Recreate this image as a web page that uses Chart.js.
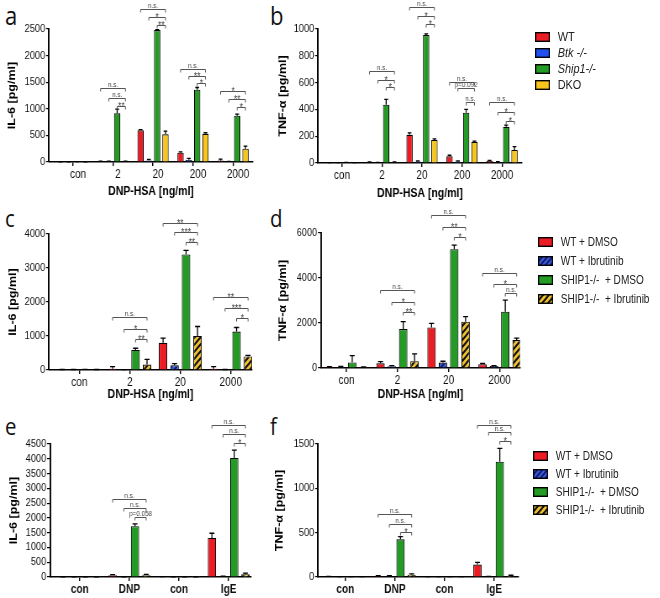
<!DOCTYPE html>
<html>
<head>
<meta charset="utf-8">
<script src="https://cdn.jsdelivr.net/npm/chart.js@4.4.1/dist/chart.umd.min.js"></script>
<style>
  body { margin: 0; background: #fff; }
  #fig { position: relative; width: 660px; height: 598px; overflow: hidden; }
  .panel { position: absolute; }
  .letter { position: absolute; font-family: 'Open Sans', sans-serif; line-height: 1; color: #111;
            transform: scaleX(0.85); transform-origin: left top; }
  .leg { position: absolute; height: 14px; line-height: 14px; white-space: pre; color: #222;
         font-family: 'Liberation Sans', Arial, sans-serif; transform: scaleX(0.84); transform-origin: left top; }
  .leg canvas { position: absolute; left: 0; top: 2px; }
  .leg span { position: absolute; left: 27px; top: 0; }
</style>
</head>
<body>
<div id="fig">
  <div class="letter" style="left:5px;top:2px;font-size:26px">a</div>
  <div class="letter" style="left:270px;top:2px;font-size:26px">b</div>
  <div class="letter" style="left:5px;top:206px;font-size:24px">c</div>
  <div class="letter" style="left:270px;top:206px;font-size:24px">d</div>
  <div class="letter" style="left:5px;top:414px;font-size:24px">e</div>
  <div class="letter" style="left:270px;top:414px;font-size:24px">f</div>
  <canvas class="panel" id="pa" style="left:0;top:0"></canvas>
  <canvas class="panel" id="pb" style="left:270px;top:0"></canvas>
  <canvas class="panel" id="pc" style="left:0;top:205px"></canvas>
  <canvas class="panel" id="pd" style="left:270px;top:205px"></canvas>
  <canvas class="panel" id="pe" style="left:0;top:410px"></canvas>
  <canvas class="panel" id="pf" style="left:270px;top:410px"></canvas>
</div>
<script>
// categories
const dnpDoses = ['con', '2', '20', '200', '2000'];
const dnpDoses4 = ['con', '2', '20', '2000'];
const stimuli = ['con', 'DNP', 'con', 'IgE'];

// legends
const genotypes = ['WT', 'Btk -/-', 'Ship1-/-', 'DKO'];
const genotypeItalic = [false, true, true, false];
const treatments = ['WT + DMSO', 'WT + Ibrutinib', 'SHIP1-/-  + DMSO', 'SHIP1-/-  + Ibrutinib'];

// panel a: IL-6, genotypes
const aWT = [2, 10, 595, 175, 30];
const aWTErr = [1, 5, 15, 15, 25];
const aBtk = [2, 10, 30, 40, 5];
const aBtkErr = [1, 5, 20, 30, 5];
const aShip = [4, 915, 2480, 1360, 870];
const aShipErr = [2, 80, 10, 40, 30];
const aDKO = [2, 10, 520, 530, 250];
const aDKOErr = [1, 5, 60, 20, 50];
const aSigGroups = [1, 2, 3, 4];
const aSigLevels = [[1385, 1197, 1052], [2870, 2731, 2575], [1742, 1617, 1479], [1340, 1178, 1039]];
const aSigText = [['n.s.', 'n.s.', '**'], ['n.s.', '*', '**'], ['n.s.', '**', '*'], ['*', '**', '*']];

// panel b: TNF-a, genotypes
const bWT = [2, 5, 210, 50, 15];
const bWTErr = [1, 3, 15, 8, 5];
const bBtk = [2, 3, 10, 10, 8];
const bBtkErr = [1, 2, 5, 5, 3];
const bShip = [3, 435, 955, 375, 270];
const bShipErr = [1, 40, 8, 25, 12];
const bDKO = [2, 5, 172, 157, 97];
const bDKOErr = [1, 3, 8, 6, 25];
const bSigGroups = [1, 2, 3, 4];
const bSigLevels = [[689, 619, 565], [1162, 1097, 1037], [607, 557, 457], [457, 383, 316]];
const bSigText = [['n.s.', '*', '*'], ['n.s.', '*', '*'], ['n.s.', 'p=0.092', 'n.s.'], ['n.s.', '*', '*']];

// panel c: IL-6, ibrutinib
const cWT = [10, 40, 800, 40];
const cWTErr = [5, 60, 140, 60];
const cWTIbr = [10, 5, 140, 10];
const cWTIbrErr = [5, 5, 50, 5];
const cShip = [15, 590, 3400, 1130];
const cShipErr = [5, 50, 120, 120];
const cShipIbr = [10, 160, 1000, 400];
const cShipIbrErr = [5, 150, 280, 30];
const cSigGroups = [1, 2, 3];
const cSigLevels = [[1569, 1196, 902], [4314, 4049, 3775], [2157, 1814, 1520]];
const cSigText = [['n.s.', '*', '**'], ['**', '***', '**'], ['**', '***', '*']];

// panel d: TNF-a, ibrutinib
const dWT = [40, 210, 1800, 170];
const dWTErr = [20, 70, 180, 30];
const dWTIbr = [50, 80, 240, 90];
const dWTIbrErr = [20, 30, 60, 20];
const dShip = [250, 1730, 5280, 2500];
const dShipErr = [300, 330, 180, 520];
const dShipIbr = [30, 300, 2060, 1240];
const dShipIbrErr = [15, 330, 220, 90];
const dSigGroups = [1, 2, 3];
const dSigLevels = [[3467, 2948, 2504], [6800, 6281, 5807], [4207, 3733, 3319]];
const dSigText = [['n.s.', '*', '**'], ['n.s.', '**', '*'], ['n.s.', '*', 'n.s.']];

// panel e: IL-6, DNP vs IgE
const eWT = [5, 60, 10, 1320];
const eWTErr = [3, 20, 5, 160];
const eWTIbr = [3, 5, 3, 20];
const eWTIbrErr = [2, 3, 2, 10];
const eShip = [3, 1720, 3, 4030];
const eShipErr = [2, 80, 2, 260];
const eShipIbr = [3, 60, 3, 90];
const eShipIbrErr = [2, 30, 2, 40];
const eSigGroups = [1, 3];
const eSigLevels = [[2642, 2340, 2026], [5138, 4846, 4544]];
const eSigText = [['n.s.', 'n.s.', 'p=0.058'], ['n.s.', 'n.s.', '*']];

// panel f: TNF-a, DNP vs IgE
const fWT = [5, 10, 3, 140];
const fWTErr = [2, 5, 2, 25];
const fWTIbr = [3, 10, 2, 5];
const fWTIbrErr = [2, 5, 2, 3];
const fShip = [3, 425, 3, 1300];
const fShipErr = [2, 30, 2, 150];
const fShipIbr = [3, 25, 2, 15];
const fShipIbrErr = [2, 10, 2, 5];
const fSigGroups = [1, 3];
const fSigLevels = [[705, 602, 504], [1716, 1636, 1534]];
const fSigText = [['n.s.', 'n.s.', '*'], ['n.s.', 'n.s.', '*']];

const SANS = "'Liberation Sans', Arial, sans-serif";
const SX = 0.84;   // the figure is squeezed horizontally

const RED = '#ec1c24', BLUE = '#2050ee', GREEN = '#249b24', YELLOW = '#f8c51c';

function hatch(base, stripe, size, lw) {
  const c = document.createElement('canvas');
  c.width = c.height = size;
  const x = c.getContext('2d');
  x.fillStyle = base;
  x.fillRect(0, 0, size, size);
  x.strokeStyle = stripe;
  x.lineWidth = lw;
  x.beginPath();
  x.moveTo(-size, size * 2); x.lineTo(size * 2, -size);
  x.moveTo(-size, size); x.lineTo(size, -size);
  x.moveTo(0, size * 2); x.lineTo(size * 2, 0);
  x.stroke();
  return x.createPattern(c, 'repeat');
}
const BLUE_HATCH = hatch('#3a5ad8', '#0d1660', 6, 1.8);
const YELLOW_HATCH = hatch('#f2c232', '#111', 7, 2.2);

// error bars drawn above each bar
const errorBars = {
  id: 'errorBars',
  afterDatasetsDraw(chart) {
    const ctx = chart.ctx, y = chart.scales.y;
    ctx.save();
    ctx.strokeStyle = '#000';
    ctx.lineWidth = 1.3;
    chart.data.datasets.forEach((ds, di) => {
      chart.getDatasetMeta(di).data.forEach((bar, i) => {
        const e = ds.err[i];
        if (!e) return;
        const top = y.getPixelForValue(ds.data[i] + e);
        const hw = bar.width * 0.3;
        ctx.beginPath();
        ctx.moveTo(bar.x, bar.y);
        ctx.lineTo(bar.x, top);
        ctx.moveTo(bar.x - hw, top);
        ctx.lineTo(bar.x + hw, top);
        ctx.stroke();
      });
    });
    ctx.restore();
  }
};

// significance brackets: each series compared with the last one
function makeBrackets(groups, levels, texts) {
  return {
    id: 'brackets',
    afterDatasetsDraw(chart) {
      const ctx = chart.ctx, y = chart.scales.y;
      const last = chart.data.datasets.length - 1;
      ctx.save();
      ctx.strokeStyle = '#555';
      ctx.fillStyle = '#444';
      ctx.lineWidth = 1;
      ctx.textAlign = 'center';
      ctx.textBaseline = 'alphabetic';
      groups.forEach((g, k) => {
        levels[k].forEach((lv, j) => {
          const x1 = chart.getDatasetMeta(j).data[g].x;
          const x2 = chart.getDatasetMeta(last).data[g].x;
          const py = Math.round(y.getPixelForValue(lv)) + 0.5;
          ctx.beginPath();
          ctx.moveTo(x1, py + 3);
          ctx.lineTo(x1, py);
          ctx.lineTo(x2, py);
          ctx.lineTo(x2, py + 3);
          ctx.stroke();
          const t = texts[k][j];
          const star = t[0] === '*';
          ctx.font = (star ? '10px ' : '7.5px ') + SANS;
          ctx.fillText(t, (x1 + x2) / 2, star ? py + 3 : py - 1.5);
        });
      });
      ctx.restore();
    }
  };
}

function drawPanel(id, g, cats, series, yMax, yStep, yTitle, xTitle, xBold, sig) {
  const cv = document.getElementById(id);
  cv.width = Math.round(g.w / SX);
  cv.height = g.h;
  cv.style.width = g.w + 'px';
  cv.style.height = g.h + 'px';
  const tickFont = { family: SANS, size: 12, weight: xBold ? 'bold' : 'normal' };
  new Chart(cv, {
    type: 'bar',
    data: {
      labels: cats.map((c, i) => i),
      datasets: series.map(s => ({
        data: s[0], err: s[1], backgroundColor: s[2],
        borderColor: '#000', borderWidth: 1.1,
        categoryPercentage: g.cat, barPercentage: g.bar
      }))
    },
    options: {
      responsive: false, animation: false, events: [], devicePixelRatio: 1,
      layout: { padding: { top: g.top, right: g.right / SX, left: 0, bottom: 0 } },
      plugins: { legend: { display: false }, tooltip: { enabled: false } },
      scales: {
        x: {
          type: 'linear', min: g.xMin, max: g.xMax, offset: false,
          afterBuildTicks: s => { s.ticks = cats.map((c, i) => ({ value: i })); },
          afterFit: s => { s.height = g.xH; },
          grid: { drawOnChartArea: false, offset: false, color: '#000', tickLength: 4, lineWidth: 1.4 },
          border: { color: '#000', width: 1.6 },
          ticks: {
            callback: v => cats[v], autoSkip: false, maxRotation: 0, padding: 1.5,
            labelOffset: (g.lblOff || 0) / SX, color: '#111', font: tickFont
          },
          title: {
            display: !!xTitle, text: xTitle, color: '#000',
            font: { family: SANS, size: 12.5, weight: 'bold' }, padding: { top: 0, bottom: g.xtPad }
          }
        },
        y: {
          min: 0, max: yMax,
          afterFit: s => { s.width = g.yW / SX; },
          grid: { drawOnChartArea: false, color: '#000', tickLength: 3.5, lineWidth: 1.2 },
          border: { color: '#000', width: 1.9 },
          ticks: { stepSize: yStep, autoSkip: false, padding: 1, color: '#111', font: { family: SANS, size: 11 }, callback: v => String(v) },
          title: {
            display: true, text: yTitle, color: '#000',
            font: { family: SANS, size: 12.5, weight: 'bold' }, padding: { top: g.ytX / SX - 7.5, bottom: 0 }
          }
        }
      }
    },
    plugins: [errorBars, makeBrackets(sig[0], sig[1], sig[2])]
  });
}

drawPanel('pa',
  { w: 268, h: 205, top: 29, right: 15, yW: 49, xH: 43, xMin: -0.6, xMax: 4.5, cat: 0.83, bar: 0.76, xtPad: 6, ytX: 12, lblOff: 5 },
  dnpDoses,
  [[aWT, aWTErr, RED], [aBtk, aBtkErr, BLUE], [aShip, aShipErr, GREEN], [aDKO, aDKOErr, YELLOW]],
  2500, 500, 'IL-6 [pg/ml]', 'DNP-HSA [ng/ml]', false, [aSigGroups, aSigLevels, aSigText]);

drawPanel('pb',
  { w: 262, h: 205, top: 29, right: 10, yW: 48, xH: 42, xMin: -0.6, xMax: 4.5, cat: 0.83, bar: 0.76, xtPad: 4, ytX: 13 },
  dnpDoses,
  [[bWT, bWTErr, RED], [bBtk, bBtkErr, BLUE], [bShip, bShipErr, GREEN], [bDKO, bDKOErr, YELLOW]],
  1000, 200, 'TNF-\u03b1 [pg/ml]', 'DNP-HSA [ng/ml]', false, [bSigGroups, bSigLevels, bSigText]);

drawPanel('pc',
  { w: 268, h: 200, top: 29, right: 16, yW: 49, xH: 35, xMin: -0.6, xMax: 3.42, cat: 0.91, bar: 0.74, xtPad: 3, ytX: 13 },
  dnpDoses4,
  [[cWT, cWTErr, RED], [cWTIbr, cWTIbrErr, BLUE_HATCH], [cShip, cShipErr, GREEN], [cShipIbr, cShipIbrErr, YELLOW_HATCH]],
  4000, 1000, 'IL-6 [pg/ml]', 'DNP-HSA [ng/ml]', false, [cSigGroups, cSigLevels, cSigText]);

drawPanel('pd',
  { w: 262, h: 200, top: 28, right: 12, yW: 51, xH: 37, xMin: -0.5, xMax: 3.4, cat: 0.89, bar: 0.74, xtPad: 3, ytX: 13 },
  dnpDoses4,
  [[dWT, dWTErr, RED], [dWTIbr, dWTIbrErr, BLUE_HATCH], [dShip, dShipErr, GREEN], [dShipIbr, dShipIbrErr, YELLOW_HATCH]],
  6000, 2000, 'TNF-\u03b1 [pg/ml]', 'DNP-HSA [ng/ml]', false, [dSigGroups, dSigLevels, dSigText]);

drawPanel('pe',
  { w: 268, h: 188, top: 34, right: 17, yW: 50, xH: 21, xMin: -0.6, xMax: 3.45, cat: 0.9, bar: 0.74, xtPad: 0, ytX: 14 },
  stimuli,
  [[eWT, eWTErr, RED], [eWTIbr, eWTIbrErr, BLUE_HATCH], [eShip, eShipErr, GREEN], [eShipIbr, eShipIbrErr, YELLOW_HATCH]],
  4500, 500, 'IL-6 [pg/ml]', '', true, [eSigGroups, eSigLevels, eSigText]);

drawPanel('pf',
  { w: 262, h: 188, top: 34, right: 14, yW: 48, xH: 21, xMin: -0.55, xMax: 3.48, cat: 0.9, bar: 0.74, xtPad: 0, ytX: 10 },
  stimuli,
  [[fWT, fWTErr, RED], [fWTIbr, fWTIbrErr, BLUE_HATCH], [fShip, fShipErr, GREEN], [fShipIbr, fShipIbrErr, YELLOW_HATCH]],
  1500, 500, 'TNF-\u03b1 [pg/ml]', '', true, [fSigGroups, fSigLevels, fSigText]);

// html legends
function legend(x, y0, step, size, names, fills, italic) {
  const fig = document.getElementById('fig');
  names.forEach((n, i) => {
    const row = document.createElement('div');
    row.className = 'leg';
    row.style.left = x + 'px';
    row.style.top = (y0 + i * step - 7) + 'px';
    row.style.fontSize = size + 'px';
    const sw = document.createElement('canvas');
    sw.width = 18; sw.height = 10;
    const sx = sw.getContext('2d');
    sx.fillStyle = fills[i];
    sx.fillRect(0, 0, 18, 10);
    sx.strokeStyle = '#000';
    sx.lineWidth = 1.4;
    sx.strokeRect(0.7, 0.7, 16.6, 8.6);
    const tx = document.createElement('span');
    tx.textContent = n;
    if (italic && italic[i]) tx.style.fontStyle = 'italic';
    row.appendChild(sw);
    row.appendChild(tx);
    fig.appendChild(row);
  });
}
legend(535, 37, 16, 13, genotypes, [RED, BLUE, GREEN, YELLOW], genotypeItalic);
legend(538, 242, 19, 12, treatments, [RED, BLUE_HATCH, GREEN, YELLOW_HATCH]);
legend(533, 456, 18, 12, treatments, [RED, BLUE_HATCH, GREEN, YELLOW_HATCH]);
</script>
</body>
</html>
